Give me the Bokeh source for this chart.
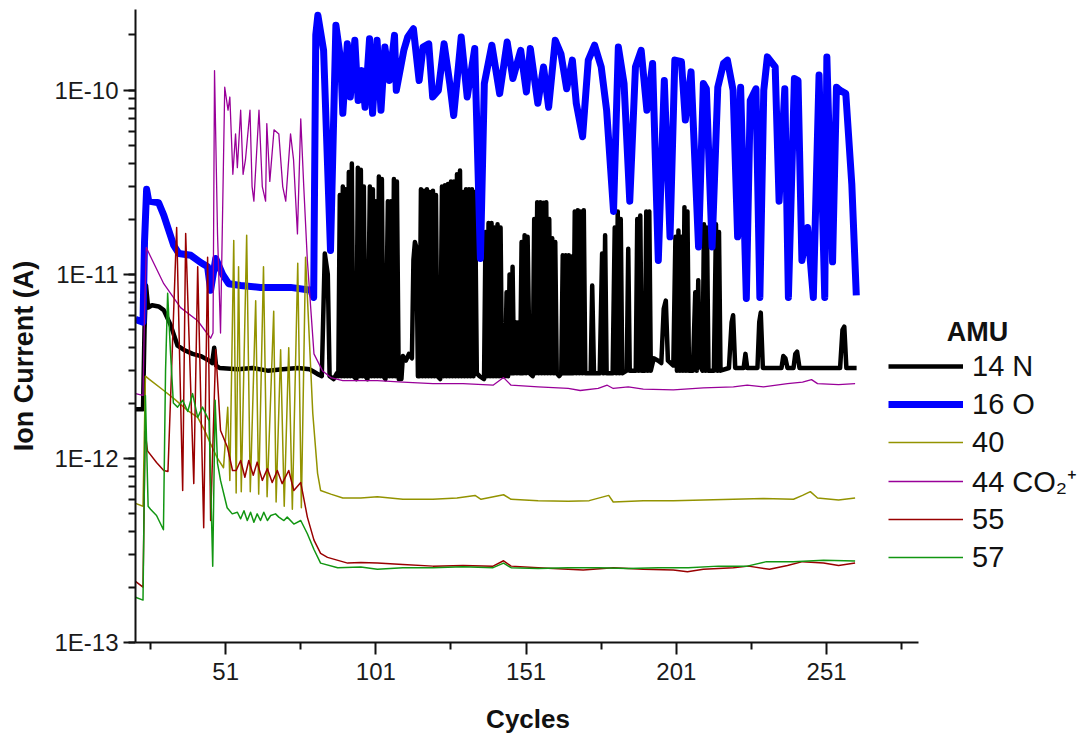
import math
from bokeh.plotting import figure
from bokeh.models import Range1d, FixedTicker, LogTicker, CustomJSTickFormatter, Label
from bokeh.embed import file_html
from bokeh.resources import INLINE

# ---------------- data ----------------
n14_c = [21, 23.5, 24.0, 24.5, 25.2, 26.5, 28.7, 30.4, 32.7, 35.0, 37.0, 40.0, 42.7, 45.5, 46.5, 47.2, 47.8, 49.0,
         55, 60, 65, 70, 75, 79, 80.5, 82, 83, 84, 85, 85.6, 87, 88, 88.5,
         89, 89.5, 90, 90.5, 91, 91.5, 92, 92.5, 93, 93.5, 94.5, 95, 95.5, 96, 96.5, 97, 97.5, 98.2, 99, 99.5,
         100, 100.5, 101, 101.5, 102, 102.5, 103, 103.5, 104.2, 105, 105.5, 106, 106.5, 107, 107.5, 108, 108.6,
         109.5, 110, 111, 112, 113, 113.5, 114, 114.5, 115, 115.5,
         116, 116.5, 117, 117.5, 118, 118.5, 119, 119.5, 120, 120.5, 121, 121.5, 122.4, 123, 123.5, 124, 124.5,
         125, 125.5, 126, 126.5, 127, 127.5, 128, 128.5, 129, 129.5, 130, 130.5, 131, 131.5, 132, 132.5, 133,
         133.5, 134, 134.6, 135.5,
         137, 137.5, 138, 138.5, 139, 139.5, 140, 140.5, 141, 141.5, 142, 142.5, 143, 144, 144.5, 145, 145.5, 146,
         146.5, 147, 147.5, 148, 148.5, 149, 149.5, 150, 150.5, 151, 151.5, 152.2, 153.2, 153.7, 154.2, 154.7,
         155.2, 155.7, 156.2, 156.7, 157.2, 157.7, 158.2, 158.7, 159.2, 159.7, 160.2, 160.7, 161.2, 162, 162.7,
         163.2, 163.7, 164.2, 164.7, 165.2, 165.7, 166.2, 166.7, 167.2, 167.7, 168.2, 168.7, 169.2, 169.7, 170.2,
         170.7, 171.5, 172.5, 173, 173.6, 175.5, 176.3, 176.8, 177.3, 177.8, 179.8, 180.5, 181, 181.5, 182, 182.5,
         183, 184.5, 185, 185.5, 187.5, 188, 188.5, 189, 189.5, 190.5, 191, 191.5, 192, 192.5, 193.5, 195, 196,
         196.8, 197.5, 198.2, 200, 200.7, 201.2, 201.7, 202.2, 202.7, 203.2, 203.7, 204.2, 204.7, 205.2, 206.5,
         207.3, 207.8, 208.3, 208.8, 209.7, 210.2, 210.7, 211.2, 211.7, 213.5, 214.2, 214.7, 215.2, 215.7, 218.5,
         219.4, 219.9, 220.6, 223.4, 224, 224.6, 228, 228.6, 229.1, 229.8, 236, 236.6, 237.3, 238, 240, 240.6,
         241.2, 242, 255.5, 256.3, 256.9, 257.6, 261]
n14_v = [1.85e-12, 1.85e-12, 5.0e-12, 8.7e-12, 6.6e-12, 6.8e-12, 6.7e-12, 6.4e-12, 5.3e-12, 4.1e-12, 3.9e-12, 3.7e-12,
         3.6e-12, 3.4e-12, 3.3e-12, 4.0e-12, 3.2e-12, 3.1e-12,
         3.05e-12, 3.1e-12, 3.0e-12, 3.05e-12, 3.1e-12, 3.05e-12, 2.95e-12, 2.85e-12, 2.8e-12, 1.3e-11, 1.0e-11,
         2.8e-12, 2.7e-12, 2.9e-12, 2.8e-12,
         2.7e-11, 2.8e-12, 3.0e-11, 2.8e-12, 2.9e-11, 2.8e-12, 3.6e-11, 2.8e-12, 4.0e-11, 2.8e-12, 2.7e-12, 3.8e-11,
         2.8e-12, 3.7e-11, 2.8e-12, 3.0e-11, 2.8e-12, 2.7e-12, 3.0e-11, 2.8e-12,
         2.9e-11, 2.8e-12, 2.5e-11, 2.8e-12, 3.4e-11, 2.8e-12, 3.3e-11, 2.8e-12, 2.7e-12, 2.5e-11, 2.8e-12, 2.5e-11,
         2.8e-12, 3.3e-11, 2.8e-12, 3.2e-11, 2.7e-12,
         2.7e-12, 3.6e-12, 3.4e-12, 3.7e-12, 3.5e-12, 1.2e-11, 1.5e-11, 1.4e-11, 2.8e-12, 2.8e-12,
         2.9e-11, 2.8e-12, 2.85e-11, 2.8e-12, 2.9e-11, 2.8e-12, 2.8e-11, 2.8e-12, 2.85e-11, 2.8e-12, 2.7e-11,
         2.8e-12, 2.7e-12, 3.0e-11, 2.8e-12, 3.05e-11, 2.8e-12,
         3.1e-11, 2.8e-12, 3.2e-11, 2.8e-12, 3.2e-11, 2.8e-12, 3.5e-11, 2.8e-12, 3.67e-11, 2.8e-12, 2.8e-11,
         2.8e-12, 2.9e-11, 2.8e-12, 2.9e-11, 2.8e-12, 2.9e-11,
         2.8e-12, 2.8e-11, 2.9e-12, 2.8e-12,
         2.7e-12, 1.7e-11, 2.8e-12, 1.9e-11, 2.8e-12, 1.9e-11, 2.8e-12, 1.8e-11, 2.8e-12, 1.87e-11, 2.8e-12,
         1.8e-11, 2.8e-12, 2.8e-12, 8.0e-12, 2.8e-12, 1.0e-11, 2.9e-12,
         1.1e-11, 2.9e-12, 5.5e-12, 2.9e-12, 5.5e-12, 2.9e-12, 1.5e-11, 2.9e-12, 1.63e-11, 2.9e-12, 1.6e-11,
         2.9e-12, 2.8e-12, 2.0e-11, 2.9e-12, 2.47e-11,
         2.9e-12, 2.47e-11, 2.9e-12, 2.45e-11, 2.9e-12, 2.47e-11, 2.9e-12, 2.0e-11, 2.9e-12, 1.57e-11, 2.9e-12,
         1.5e-11, 2.9e-12, 2.8e-12, 2.9e-12,
         1.27e-11, 2.9e-12, 1.27e-11, 2.9e-12, 1.27e-11, 2.9e-12, 1.25e-11, 2.9e-12, 2.2e-11, 2.9e-12, 2.23e-11,
         2.9e-12, 2.2e-11, 2.9e-12, 2.23e-11,
         2.9e-12, 2.9e-12, 2.9e-12, 8.7e-12, 2.9e-12, 2.9e-12, 1.3e-11, 2.9e-12, 1.63e-11, 2.9e-12, 2.9e-12,
         1.8e-11, 2.9e-12, 2.2e-11, 2.9e-12, 2.0e-11,
         2.9e-12, 3.0e-12, 1.38e-11, 3.0e-12, 3.0e-12, 2.0e-11, 3.0e-12, 2.09e-11, 3.0e-12, 3.0e-12, 2.2e-11,
         3.0e-12, 2.2e-11, 3.0e-12, 3.5e-12, 3.4e-12, 3.3e-12,
         6.5e-12, 7.2e-12, 3.4e-12, 3.2e-12, 1.6e-11, 3.0e-12, 1.73e-11, 3.0e-12, 1.6e-11, 3.0e-12, 2.32e-11,
         3.0e-12, 2.2e-11, 3.0e-12, 3.0e-12,
         8.0e-12, 3.0e-12, 9.3e-12, 3.2e-12, 3.0e-12, 1.87e-11, 3.0e-12, 1.8e-11, 3.0e-12, 3.0e-12, 1.87e-11,
         3.0e-12, 1.7e-11, 3.0e-12, 3.1e-12,
         5.5e-12, 6.0e-12, 3.1e-12, 3.1e-12, 3.7e-12, 3.1e-12, 3.1e-12, 5.5e-12, 6.2e-12, 3.1e-12, 3.1e-12,
         3.6e-12, 3.5e-12, 3.1e-12, 3.1e-12, 3.7e-12,
         3.8e-12, 3.1e-12, 3.1e-12, 5.0e-12, 5.2e-12, 3.1e-12, 3.1e-12]

o16_c = [21, 23.5, 24.0, 24.7, 25.4, 28.7, 30.4, 33.7, 35.4, 39.4, 42.7, 45.0, 46.0, 47.7, 50.0, 52.0, 56.0, 62.6,
         72.6, 79.3, 80.3, 81.0,
         81.7, 83.6, 85.9, 87.7, 89.3, 90.0, 91.5, 92.5, 94.0, 95.1, 96.3, 97.4, 98.9, 99.9, 101.4, 102.7, 104.0,
         105.5, 107.2, 107.8, 110.3, 111.6, 113.5, 115.4, 116.7, 118.6, 119.9, 121.8, 123.7, 125.6, 126.9, 129.4,
         131.4, 133.9, 135.8, 137.1, 139.6, 142.2, 144.7, 146.6, 149.2, 151.1, 152.4, 154.9, 156.8, 158.5, 160.7,
         162.6, 164.5, 166.4, 167.7, 169.8, 171.7, 173.8, 176.0, 177.8, 180.1, 181.7, 183.6, 185.5, 187.4, 189.3,
         191.2, 193.1, 195.0, 197.0, 198.9, 200.5, 202.7, 204.0, 205.9, 208.4, 210.0, 211.0, 212.9, 214.8, 216.7,
         218.0, 219.9, 221.4, 222.4, 224.3, 225.6, 227.5, 228.8, 230.1, 231.3, 233.9, 235.2, 237.1, 238.3, 240.3,
         241.5, 242.8, 244.7, 246.6, 248.5, 250.4, 251.1, 253.0, 254.3, 255.5, 257.4, 259.4, 260.9]
o16_v = [5.7e-12, 5.5e-12, 1.5e-11, 2.9e-11, 2.5e-11, 2.45e-11, 2.1e-11, 1.44e-11, 1.3e-11, 1.27e-11, 1.16e-11,
         1.1e-11, 8.2e-12, 1.22e-11, 1.0e-11, 8.9e-12, 8.7e-12, 8.5e-12, 8.5e-12, 8.2e-12, 7.5e-12, 2.0e-10,
         2.56e-10, 1.65e-10, 1.35e-11, 2.26e-10, 1.46e-10, 7.5e-11, 1.79e-10, 9.2e-11, 1.87e-10, 8.8e-11, 1.28e-10,
         8.1e-11, 1.91e-10, 7.5e-11, 1.87e-10, 7.8e-11, 1.72e-10, 1.13e-10, 1.99e-10, 1.0e-10, 1.65e-10, 1.95e-10,
         2.16e-10, 1.13e-10, 1.72e-10, 1.79e-10, 9.2e-11, 1.0e-10, 1.79e-10, 1.09e-10, 7.3e-11, 1.95e-10, 9.2e-11,
         1.69e-10, 1.22e-11, 1.09e-10, 1.76e-10, 9.6e-11, 1.83e-10, 1.16e-10, 1.65e-10, 9.8e-11, 1.69e-10, 8.5e-11,
         1.34e-10, 8.1e-11, 1.87e-10, 1.58e-10, 1.02e-10, 1.46e-10, 8.5e-11, 5.6e-11, 1.46e-10, 1.76e-10, 1.34e-10,
         7.8e-11, 2.2e-11, 1.72e-10, 1.09e-10, 2.5e-11, 1.34e-10, 1.65e-10, 7.8e-11, 1.4e-10, 1.19e-11, 1.13e-10,
         1.6e-11, 1.46e-10, 1.43e-10, 6.9e-11, 1.26e-10, 1.41e-11, 1.09e-10, 1.02e-10, 1.41e-11, 1.04e-10, 1.4e-10,
         1.46e-10, 1.0e-10, 1.6e-11, 1.04e-10, 7.4e-12, 8.8e-11, 1.02e-10, 7.5e-12, 1.0e-10, 1.52e-10, 1.34e-10,
         2.5e-11, 1.02e-10, 7.5e-12, 1.16e-10, 1.13e-10, 1.19e-11, 1.8e-11, 7.5e-12, 1.21e-10, 7.5e-12, 1.52e-10,
         1.17e-11, 1.04e-10, 1.0e-10, 9.6e-11, 3.1e-11, 7.7e-12]

a40_c = [21, 23.5, 24.3, 25.5, 30.4, 34.0, 38.4, 41.7, 44.0, 46.0, 48.3, 50.3, 51.7, 52.4, 53.7, 54.5, 55.3, 56.2,
         58.0, 59.2, 61.0, 62.0, 63.6, 64.8, 67.0, 67.8, 69.3, 70.5, 72.0, 73.2, 75.0, 76.2, 77.6, 80.0, 81.6, 82.6,
         86, 90, 96, 101.5, 110, 120, 128, 134, 136, 143.5, 146, 155, 165, 172, 178.5, 180, 190, 200, 210, 220, 230,
         240, 243, 245.6, 248, 255, 260.5]
a40_v = [5.7e-13, 5.5e-13, 2.8e-12, 2.7e-12, 2.34e-12, 2.1e-12, 1.82e-12, 1.67e-12, 1.42e-12, 1.2e-12, 1.0e-12,
         8.9e-13, 1.9e-12, 7.6e-13, 1.53e-11, 6.5e-13, 1.1e-11, 6.6e-13, 1.63e-11, 6.6e-13, 7.2e-12, 6.4e-13,
         1.1e-11, 6.2e-13, 6.3e-12, 5.8e-13, 3.9e-12, 5.5e-13, 4.0e-12, 5.3e-13, 1.15e-11, 5.4e-13, 1.24e-11,
         1.76e-12, 8.3e-13, 6.7e-13,
         6.4e-13, 6.1e-13, 6.1e-13, 6.2e-13, 6.0e-13, 6.0e-13, 6.1e-13, 6.3e-13, 6.0e-13, 6.35e-13, 6.0e-13, 5.9e-13,
         5.85e-13, 5.9e-13, 6.3e-13, 5.8e-13, 5.9e-13, 5.9e-13, 5.95e-13, 6.0e-13, 6.05e-13, 6.0e-13, 6.3e-13,
         6.6e-13, 6.1e-13, 5.95e-13, 6.1e-13]

co2_c = [21, 23.5, 24.0, 24.6, 26.0, 30.4, 36.0, 41.7, 46.0, 46.8, 47.3, 48.3, 49.3, 50.7, 51.8, 52.4, 53.4, 54.3,
         54.9, 56.0, 56.8, 57.6, 59.1, 59.8, 60.4, 62.1, 63.2, 64.3, 64.7, 65.7, 67.1, 68.7, 70.0, 71.0, 72.6, 73.6,
         74.9, 76.0, 77.0, 78.2, 80.4, 83.2, 86, 90, 101.5, 110, 120, 130, 140, 143.5, 146, 155, 165, 169, 175, 178,
         180, 185, 190, 200, 210, 220, 224.6, 230, 238, 243, 246, 248, 255, 260.5]
co2_v = [2.25e-12, 2.2e-12, 6.0e-12, 1.4e-11, 1.25e-11, 8.9e-12, 6.6e-12, 5.6e-12, 4.5e-12, 4.8e-12, 1.28e-10,
         1.66e-11, 4.8e-12, 1.04e-10, 7.8e-11, 9.2e-11, 3.5e-11, 5.8e-11, 3.8e-11, 7.8e-11, 3.5e-11, 4.2e-11,
         7.8e-11, 3.0e-11, 2.5e-11, 7.8e-11, 3.0e-11, 2.5e-11, 6.6e-11, 3.2e-11, 6.1e-11, 5.8e-11, 3.0e-11,
         2.5e-11, 5.8e-11, 4.2e-11, 1.66e-11, 7.0e-11, 3.0e-11, 1.19e-11, 3.7e-12, 3.0e-12, 2.75e-12, 2.65e-12,
         2.65e-12, 2.6e-12, 2.55e-12, 2.55e-12, 2.5e-12, 2.75e-12, 2.5e-12, 2.45e-12, 2.4e-12, 2.34e-12, 2.4e-12,
         2.5e-12, 2.4e-12, 2.45e-12, 2.38e-12, 2.36e-12, 2.42e-12, 2.45e-12, 2.5e-12, 2.45e-12, 2.55e-12, 2.6e-12,
         2.68e-12, 2.55e-12, 2.52e-12, 2.55e-12]

a55_c = [21, 23.5, 24.2, 25.0, 28.0, 30.4, 31.8, 34.7, 36.7, 37.7, 40.4, 41.7, 43.7, 45.0, 46.0, 47.7, 49.3, 51.6,
         53.3, 54.5, 56.0, 57.4, 58.7, 60.2, 61.5, 63.2, 64.9, 66.5, 68.2, 69.8, 72.0, 73.7, 76.0, 78.2, 80.4, 82.6,
         84.9, 91.6, 96, 101.5, 110, 120, 130, 140, 143.5, 146, 155, 165, 170, 180, 190, 200, 204.7, 210, 220, 225,
         232, 238, 243, 250, 255, 260.5]
a55_v = [2.15e-13, 2.0e-13, 1.4e-12, 1.1e-12, 9.5e-13, 8.6e-13, 8.5e-13, 1.8e-11, 6.7e-13, 1.67e-11, 7.3e-13,
         1.1e-11, 4.2e-13, 1.24e-11, 4.6e-13, 3.9e-12, 1.42e-12, 1.15e-12, 8.6e-13, 8.6e-13, 9.75e-13, 7.9e-13,
         9.75e-13, 8.1e-13, 9.55e-13, 7.6e-13, 8.8e-13, 7.4e-13, 8.6e-13, 7.3e-13, 8.6e-13, 6.7e-13, 7.4e-13,
         4.8e-13, 3.6e-13, 3.05e-13, 2.9e-13, 2.7e-13, 2.72e-13, 2.7e-13, 2.65e-13, 2.6e-13, 2.62e-13, 2.6e-13,
         2.78e-13, 2.6e-13, 2.55e-13, 2.5e-13, 2.48e-13, 2.55e-13, 2.5e-13, 2.48e-13, 2.42e-13, 2.5e-13, 2.55e-13,
         2.6e-13, 2.5e-13, 2.62e-13, 2.75e-13, 2.7e-13, 2.62e-13, 2.7e-13]

a57_c = [21, 23.5, 24.3, 25.2, 26.0, 28.0, 30.3, 31.0, 31.7, 32.6, 33.6, 35.0, 36.7, 38.4, 40.0, 41.7, 43.3, 45.5,
         46.7, 47.5, 48.3, 49.3, 51.5, 53.2, 54.9, 56.0, 57.1, 58.2, 59.3, 60.4, 61.5, 62.6, 63.7, 64.9, 66.0, 67.6,
         68.7, 70.4, 71.5, 73.7, 76.0, 78.2, 80.4, 82.6, 88.3, 96, 101.5, 110, 120, 130, 140, 143.5, 146, 155, 165,
         175, 185, 195, 205, 215, 224.6, 231, 240, 250, 260.5]
a57_v = [1.76e-13, 1.7e-13, 2.2e-12, 5.5e-13, 5.3e-13, 4.9e-13, 4.1e-13, 3.0e-12, 7.9e-12, 3.9e-12, 2.0e-12,
         1.9e-12, 2.07e-12, 1.8e-12, 2.25e-12, 1.67e-12, 1.9e-12, 1.6e-12, 2.6e-13, 2.07e-12, 9.4e-13, 7.6e-13,
         5.4e-13, 5.0e-13, 5.1e-13, 4.7e-13, 5.2e-13, 4.6e-13, 5.1e-13, 4.5e-13, 5.0e-13, 4.6e-13, 5.1e-13, 4.6e-13,
         4.9e-13, 5.0e-13, 4.8e-13, 4.6e-13, 4.8e-13, 4.4e-13, 4.6e-13, 3.9e-13, 3.2e-13, 2.7e-13, 2.55e-13,
         2.57e-13, 2.5e-13, 2.55e-13, 2.55e-13, 2.58e-13, 2.55e-13, 2.7e-13, 2.55e-13, 2.52e-13, 2.55e-13, 2.55e-13,
         2.52e-13, 2.55e-13, 2.55e-13, 2.6e-13, 2.6e-13, 2.75e-13, 2.75e-13, 2.8e-13, 2.77e-13]

x_major = [51, 101, 151, 201, 251]
x_minor = [26, 76, 126, 176, 226, 276]
series_labels = ["14 N", "16 O", "40", "44 CO\u2082\u207a", "55", "57"]
series_colors = ["#000000", "#0000ff", "#939300", "#990099", "#990000", "#129612"]
series_widths = [4.5, 7, 1.5, 1.3, 1.5, 1.5]

# ---------------- figure ----------------
FONT = "Liberation Sans"
W, H = 1079, 742
LEFT, TOP, BOTTOM = 135, 9, 100
X_START, X_AXIS_END = 21.0, 281.6
PX_PER_CYCLE = 783 / (X_AXIS_END - X_START)
FRAME_W = W - LEFT
p = figure(width=W, height=H, output_backend="svg", toolbar_location=None,
           y_axis_type="log",
           x_range=Range1d(X_START, X_START + FRAME_W / PX_PER_CYCLE), y_range=Range1d(1e-13, 2.75e-10),
           min_border_left=LEFT, min_border_right=0, min_border_top=TOP, min_border_bottom=BOTTOM)
p.outline_line_color = None
p.grid.visible = False
p.background_fill_color = "white"
p.border_fill_color = "white"

series = [(n14_c, n14_v), (o16_c, o16_v), (a40_c, a40_v), (co2_c, co2_v), (a55_c, a55_v), (a57_c, a57_v)]
for (cs, vs), lab, col, w in zip(series, series_labels, series_colors, series_widths):
    p.line(cs, vs, line_color=col, line_width=w, line_join="round", legend_label=lab)

# axes
for ax in (p.xaxis[0], p.yaxis[0]):
    ax.axis_line_width = 2
    ax.axis_line_color = "#111111"
    ax.major_tick_line_width = 2
    ax.minor_tick_line_width = 2
    ax.major_tick_line_color = "#111111"
    ax.minor_tick_line_color = "#111111"
    ax.major_tick_in = 0
    ax.major_tick_out = 12
    ax.minor_tick_in = 0
    ax.minor_tick_out = 7
    ax.major_label_text_font = FONT
    ax.major_label_text_font_size = "24px"
    ax.major_label_text_color = "#1a1a1a"

p.xaxis.bounds = (X_START, X_AXIS_END)
p.xaxis.ticker = FixedTicker(ticks=x_major, minor_ticks=x_minor)
p.xaxis.major_label_standoff = 8
# trailing no-break spaces keep the label centred under the drawn axis (the frame runs on under the legend)
p.xaxis.axis_label = "Cycles" + "\u00a0" * 22
p.xaxis.axis_label_text_font = FONT
p.xaxis.axis_label_text_font_style = "bold"
p.xaxis.axis_label_text_font_size = "26px"
p.xaxis.axis_label_text_color = "#111111"
p.xaxis.axis_label_standoff = 21

p.yaxis.ticker = LogTicker(num_minor_ticks=10)
p.yaxis.formatter = CustomJSTickFormatter(code="return '1E' + Math.round(Math.log10(tick));")
p.yaxis.major_label_standoff = 5
p.yaxis.axis_label = "Ion Current (A)" + "\u00a0" * 8
p.yaxis.axis_label_text_font = FONT
p.yaxis.axis_label_text_font_style = "bold"
p.yaxis.axis_label_text_font_size = "27px"
p.yaxis.axis_label_text_color = "#111111"
p.yaxis.axis_label_standoff = 12

# legend
lg = p.legend[0]
lg.location = (753, 66)
lg.glyph_width = 75
lg.glyph_height = 38
lg.label_height = 38
lg.label_standoff = 9
lg.spacing = 0
lg.padding = 0
lg.margin = 0
lg.label_text_font = FONT
lg.label_text_font_size = "29px"
lg.label_text_color = "#111111"
lg.label_text_baseline = "middle"
lg.background_fill_alpha = 0
lg.border_line_alpha = 0

p.add_layout(Label(x=842, y=311, x_units="screen", y_units="screen", text="AMU",
                   text_align="center", text_baseline="alphabetic",
                   text_font=FONT, text_font_style="bold", text_font_size="27px", text_color="#111111"))

open("out.html", "w").write(file_html(p, INLINE))
